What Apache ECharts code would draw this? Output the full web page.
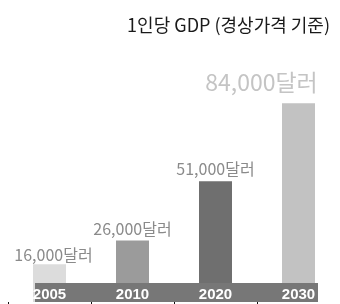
<!DOCTYPE html>
<html>
<head>
<meta charset="utf-8">
<script src="https://cdn.jsdelivr.net/npm/echarts@6/dist/echarts.min.js"></script>
<style>
  html, body { margin: 0; padding: 0; background: #fff; }
  #chart { width: 340px; height: 304px; }
</style>
</head>
<body>
<div id="chart"></div>
<script>
// 1인당 GDP 데이터
var years = ['2005', '2010', '2020', '2030'];
var gdp = [16000, 26000, 51000, 84000];
var barColors = ['#dcdcdc', '#9b9b9b', '#6f6f6f', '#c2c2c2'];

var myChart = echarts.init(document.getElementById('chart'));

var seriesData = gdp.map(function (v, i) {
  var item = { value: v, itemStyle: { color: barColors[i] } };
  if (i === 3) {
    // 2030 라벨은 크고 연하게, 왼쪽으로 치우침
    item.label = { fontSize: 23, color: '#c4c4c4', offset: [-37, -5] };
  } else if (i === 0) {
    item.label = { offset: [4, 3] };
  }
  return item;
});

var option = {
  animation: false,
  title: {
    text: '1인당 GDP (경상가격 기준)',
    right: 5,
    top: 11,
    textStyle: {
      fontFamily: 'Noto Sans CJK KR',
      fontSize: 18,
      fontWeight: 'normal',
      color: '#1a1a1a'
    }
  },
  grid: { left: 8, width: 336, top: 89, bottom: 2 },
  xAxis: {
    type: 'category',
    data: years,
    z: 10,
    axisLine: { show: false },
    axisTick: {
      show: true,
      length: 2,
      lineStyle: { color: '#111', width: 1 }
    },
    axisLabel: {
      inside: true,
      margin: 0,
      color: '#fff',
      fontFamily: 'Liberation Sans',
      fontSize: 15,
      fontWeight: 'bold',
      lineHeight: 15
    }
  },
  yAxis: {
    type: 'value',
    min: 0,
    max: 90000,
    show: false,
    splitLine: { show: false }
  },
  graphic: [{
    // 하단 회색 띠
    type: 'rect',
    z: 5,
    shape: { x: 35, y: 283, width: 283, height: 19 },
    style: { fill: '#777' }
  }],
  series: [{
    type: 'bar',
    barWidth: 33,
    data: seriesData,
    label: {
      show: true,
      position: 'top',
      distance: 4,
      fontFamily: 'Noto Sans CJK KR',
      fontSize: 16,
      color: '#8a8a8a',
      formatter: function (p) {
        return p.value.toLocaleString('en-US') + '달러';
      }
    }
  }]
};
myChart.setOption(option);
</script>
</body>
</html>
